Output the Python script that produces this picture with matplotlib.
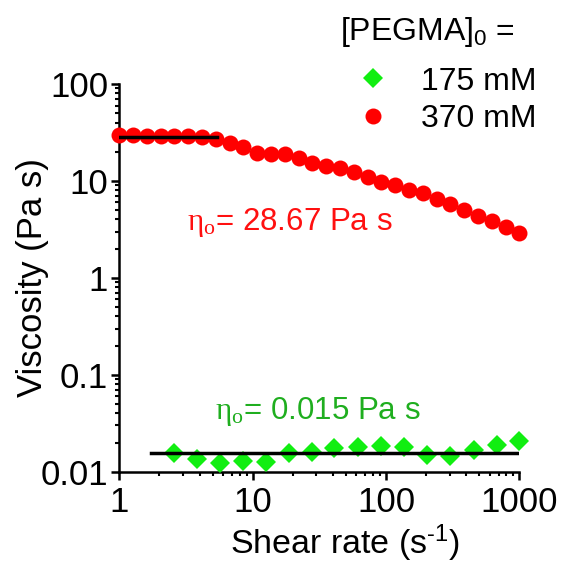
import numpy as np
import matplotlib
matplotlib.use("Agg")
import matplotlib.pyplot as plt

plt.rcParams['font.family'] = ['Liberation Sans', 'DejaVu Sans']
plt.rcParams['mathtext.fontset'] = 'custom'
plt.rcParams['mathtext.rm'] = 'Liberation Sans'
plt.rcParams['mathtext.it'] = 'Liberation Sans:italic'
# serif face used for the eta symbol
plt.rcParams['mathtext.tt'] = 'Liberation Serif'

# 370 mM series (red circles)
shear_370 = [1.00, 1.27, 1.61, 2.04, 2.59, 3.29, 4.18, 5.30, 6.72, 8.53,
             10.8, 13.7, 17.4, 22.1, 28.1, 35.6, 45.2, 57.4, 72.8, 92.4,
             117, 149, 189, 240, 304, 386, 489, 621, 788, 1000]
visc_370 = [29.9, 29.9, 29.4, 29.2, 29.2, 29.2, 28.7, 27.0, 24.5, 22.6,
            19.6, 19.0, 18.9, 17.2, 15.4, 14.3, 13.5, 12.3, 11.1, 9.8,
            9.1, 8.07, 7.46, 6.47, 5.79, 5.01, 4.35, 3.89, 3.32, 2.88]

# 175 mM series (green diamonds)
shear_175 = [2.56, 3.80, 5.68, 8.43, 12.5, 18.7, 27.7, 41.0, 61.3, 91.7,
             136, 203, 302, 454, 675, 1000]
visc_175 = [0.0157, 0.0134, 0.0124, 0.0130, 0.0126, 0.0155, 0.0161, 0.0175,
            0.0179, 0.0185, 0.0179, 0.0149, 0.0145, 0.0168, 0.0189, 0.0205]

# zero-shear viscosity fits
eta0_370 = 28.67
fit_range_370 = [1.0, 5.4]
eta0_175 = 0.0155
fit_range_175 = [1.72, 1000]

fig = plt.figure(figsize=(5.61, 5.63), dpi=100)
ax = fig.add_axes([0.2127, 0.1622, 0.713, 0.6886])

ax.plot(shear_175, visc_175, 'D', color='#11ee11', markersize=10.5,
        markeredgewidth=0, clip_on=False, label='175 mM', zorder=3)
ax.plot(shear_370, visc_370, 'o', color='#ff0000', markersize=11.5,
        markeredgewidth=0, clip_on=False, label='370 mM', zorder=3)
ax.plot(fit_range_370, [eta0_370] * 2, color='black', lw=2.5, zorder=4)
ax.plot(fit_range_175, [eta0_175] * 2, color='black', lw=2.5, zorder=4)

ax.set_xscale('log')
ax.set_yscale('log')
ax.set_xlim(1, 1000)
ax.set_ylim(0.01, 100)
ax.set_xticks([1, 10, 100, 1000])
ax.set_xticklabels(['1', '10', '100', '1000'])
ax.set_yticks([0.01, 0.1, 1, 10, 100])
ax.set_yticklabels(['0.01', '0.1', '1', '10', '100'])

for s in ['top', 'right']:
    ax.spines[s].set_visible(False)
for s in ['left', 'bottom']:
    ax.spines[s].set_linewidth(1.8)
ax.tick_params(which='major', direction='out', length=6, width=1.8,
               labelsize=25, pad=2)
ax.tick_params(axis='x', which='major', pad=4)
ax.tick_params(which='minor', direction='out', length=3.2, width=1.5)

# hyphen (U+2010) instead of the mathtext minus, like the original
ax.set_xlabel('Shear rate (s$^{\u20101}$)', fontsize=24.5)
ax.set_ylabel('Viscosity (Pa s)', fontsize=25)
ax.xaxis.set_label_coords(0.564, -0.13)
ax.yaxis.set_label_coords(-0.175, 0.5)

ax.text(3.2, 3.1, '$\\mathtt{\\eta_o}$= 28.67 Pa s', color='#ff1010', fontsize=22.5)
ax.text(5.2, 0.0348, '$\\mathtt{\\eta_o}$= 0.015 Pa s', color='#1fae1f', fontsize=22.5)

fig.text(0.606, 0.943, '[PEGMA]$_0$ =', fontsize=23, ha='left', va='center')
leg = ax.legend(loc='center left', bbox_to_anchor=(0.608, 0.8215),
                bbox_transform=fig.transFigure, frameon=False, fontsize=23,
                handletextpad=0.5, labelspacing=0.25, handlelength=2.0,
                borderpad=0, borderaxespad=0)

plt.savefig("out.png", dpi=100)
